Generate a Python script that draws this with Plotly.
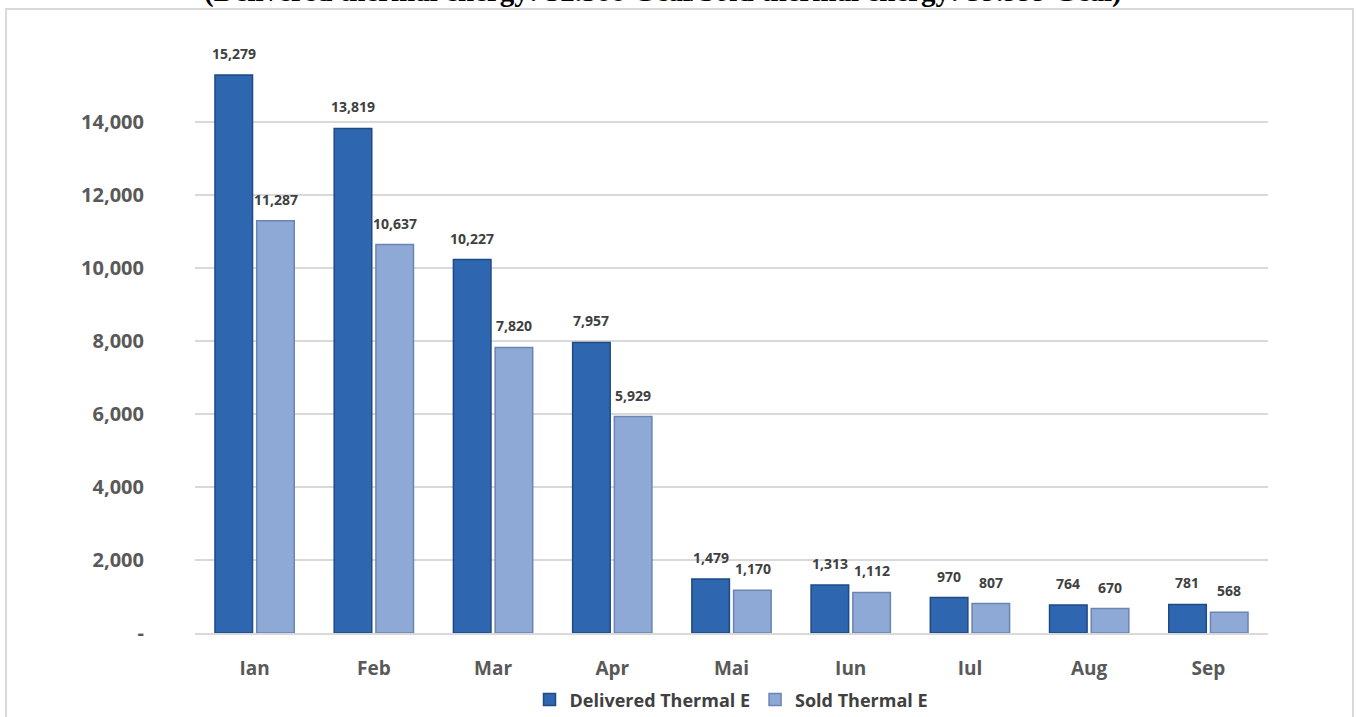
import plotly.graph_objects as go

months = ["Ian", "Feb", "Mar", "Apr", "Mai", "Iun", "Iul", "Aug", "Sep"]
delivered = [15279, 13819, 10227, 7957, 1479, 1313, 970, 764, 781]
sold = [11287, 10637, 7820, 5929, 1170, 1112, 807, 670, 568]
y_ticks = [0, 2000, 4000, 6000, 8000, 10000, 12000, 14000]
y_tick_text = ["-", "2,000", "4,000", "6,000", "8,000", "10,000", "12,000", "14,000"]
title_text = "(Delivered thermal energy: 52.588 Gcal/Sold thermal energy: 39.999 Gcal)"

DARK = "#2F66B0"
DARK_LINE = "#1E4A85"
LIGHT = "#8FA9D6"
LIGHT_LINE = "#6A84B3"
FONT = "Open Sans"

fig = go.Figure()
fig.add_trace(go.Bar(x=months, y=delivered, name="Delivered Thermal E",
                     marker=dict(color=DARK, line=dict(color=DARK_LINE, width=1.5))))
fig.add_trace(go.Bar(x=months, y=sold, name="Sold Thermal E",
                     marker=dict(color=LIGHT, line=dict(color=LIGHT_LINE, width=1.5))))

annotations = []
for i, m in enumerate(months):
    for vals, shift in ((delivered, -21), (sold, 21)):
        annotations.append(dict(x=m, y=vals[i], xref="x", yref="y", text=f"{vals[i]:,}",
                                showarrow=False, yanchor="bottom", yshift=10, xshift=shift,
                                font=dict(family=FONT, size=14, color="#404040", weight="bold")))

annotations.append(dict(x=0.436, y=1.0436, xref="paper", yref="paper", text=title_text,
                        showarrow=False, yanchor="bottom", xanchor="center",
                        font=dict(family="Liberation Serif", size=29, color="#000000", weight="bold")))

fig.update_layout(
    width=1357, height=717,
    margin=dict(l=195, r=89, t=36, b=84, autoexpand=False),
    paper_bgcolor="white", plot_bgcolor="white",
    barmode="group", bargap=0.30, bargroupgap=0.1,
    showlegend=True,
    legend=dict(orientation="h", x=0.5, xanchor="center", yref="container", y=0.024,
                yanchor="middle",
                font=dict(family=FONT, size=18, color="#404040", weight="bold"),
                itemwidth=30, traceorder="normal"),
    annotations=annotations,
    shapes=[dict(type="rect", xref="paper", yref="paper", x0=-0.1761, x1=1.0792,
                 y0=-0.2, y1=1.0452, line=dict(color="#D9D9D9", width=2), layer="below")],
    xaxis=dict(tickfont=dict(family=FONT, size=19, color="#595959", weight="bold"),
               showline=True, linecolor="#D9D9D9", linewidth=2, ticks="", showgrid=False,
               ticklabelstandoff=17),
    yaxis=dict(range=[0, 16350], tickvals=y_ticks, ticktext=y_tick_text,
               tickfont=dict(family=FONT, size=20, color="#595959", weight="bold"),
               showgrid=True, gridcolor="#D9D9D9", gridwidth=1.5, zeroline=False,
               showline=False, ticks="", ticklabelstandoff=50),
)

fig.write_html("out.html", config={"displayModeBar": False},
               post_script="document.body.style.margin='0';")
